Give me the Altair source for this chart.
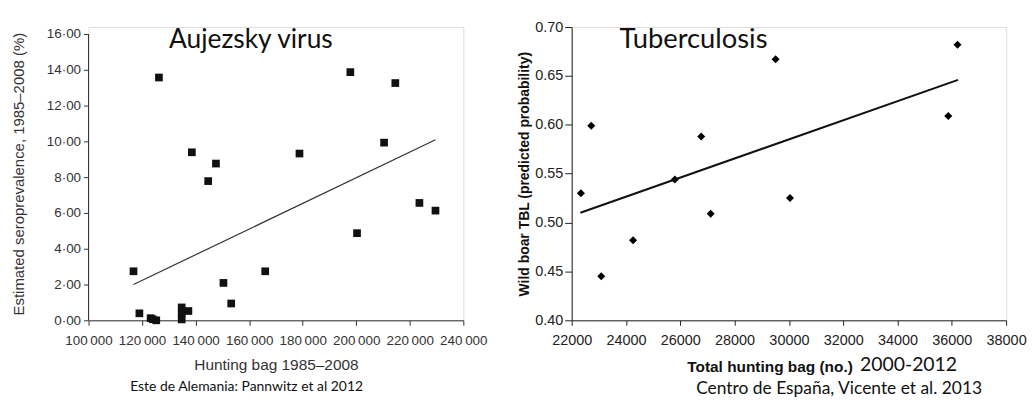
import altair as alt
import pandas as pd

# ---- Left panel: Aujeszky virus (Pannwitz et al 2012)
aujx = [116800, 119000, 123200, 124000, 125300, 134800, 134800, 134800, 137300,
        150400, 153300, 166000, 200300, 223600, 229600, 126300, 138600, 147600,
        144700, 178800, 197800, 210400, 214600]
aujy = [2.74, 0.39, 0.12, 0.06, 0.00, 0.72, 0.38, 0.05, 0.52,
        2.09, 0.94, 2.74, 4.87, 6.56, 6.13, 13.57, 9.39, 8.76,
        7.78, 9.32, 13.87, 9.93, 13.26]
auj_fit_x = [116800, 229600]
auj_fit_y = [2.0, 10.09]
auj_axis_x = [100000, 100000]
auj_axis_y = [0, 16]
auj_xticks = [100000, 120000, 140000, 160000, 180000, 200000, 220000, 240000]
auj_yticks = [0, 2, 4, 6, 8, 10, 12, 14, 16]

# ---- Right panel: Tuberculosis (Vicente et al. 2013)
tbx = [22340, 22720, 23090, 24260, 25800, 26770, 27120, 29510, 30040, 35870, 36210]
tby = [0.530, 0.599, 0.445, 0.482, 0.544, 0.588, 0.509, 0.667, 0.525, 0.609, 0.682]
tb_fit_x = [22320, 36230]
tb_fit_y = [0.510, 0.646]
tb_xticks = [22000, 24000, 26000, 28000, 30000, 32000, 34000, 36000, 38000]
tb_yticks = [0.40, 0.45, 0.50, 0.55, 0.60, 0.65, 0.70]

LW, LH = 377, 295
RW, RH = 437, 295
CAL = "Lato"
ARIAL = "Liberation Sans"

# ---------- Left ----------
ldf = pd.DataFrame({"x": aujx, "y": aujy})
lfit = pd.DataFrame({"x": auj_fit_x, "y": auj_fit_y})
laxis = pd.DataFrame({"x": auj_axis_x, "y": auj_axis_y})

lx = alt.X("x:Q", scale=alt.Scale(domain=[100000, 240000], nice=False, zero=False),
           axis=alt.Axis(values=auj_xticks, title="Hunting bag 1985–2008",
                         labelExpr="replace(format(datum.value, ','), ',', '\u2009')",
                         grid=False, tickSize=5, labelPadding=8, domainColor="#333",
                         tickColor="#333", labelColor="#333", titleColor="#333",
                         labelFont=ARIAL, titleFont=ARIAL, labelFontSize=13.5,
                         labelOverlap=False, labelFlush=False,
                         titleFontSize=15.5, titleFontWeight="normal", titlePadding=11))
ly = alt.Y("y:Q", scale=alt.Scale(domain=[0, 16.39], nice=False),
           axis=alt.Axis(values=auj_yticks, title="Estimated seroprevalence, 1985–2008 (%)",
                         labelExpr="replace(format(datum.value, '.2f'), '.', '·')",
                         grid=False, domain=False, tickSize=5, labelPadding=3,
                         tickColor="#333", labelColor="#333", titleColor="#333",
                         labelFont=ARIAL, titleFont=ARIAL, labelFontSize=13.5,
                         labelOverlap=False, labelFlush=False,
                         titleFontSize=15, titleFontWeight="normal", titlePadding=20))

lpts = alt.Chart(ldf).mark_point(shape="square", filled=True, size=60, color="#111",
                                 opacity=1).encode(x=lx, y=ly)
lline = alt.Chart(lfit).mark_line(color="#333", strokeWidth=1.2).encode(x=lx, y=ly)
lax = alt.Chart(laxis).mark_line(color="#333", strokeWidth=1).encode(x=lx, y=ly)
ltitle = alt.Chart(pd.DataFrame({"t": ["Aujezsky virus"]})).mark_text(
    font=CAL, fontSize=26.5, align="left", baseline="alphabetic", color="#111"
).encode(text="t:N", x=alt.value(81), y=alt.value(21))
lcap = alt.Chart(pd.DataFrame({"t": ["Este de Alemania: Pannwitz et al 2012"]})).mark_text(
    font=CAL, fontSize=14, align="center", baseline="alphabetic", color="#111"
).encode(text="t:N", x=alt.value(159), y=alt.value(366))

left = alt.layer(lpts, lline, lax, ltitle, lcap).properties(width=LW, height=LH)

# ---------- Right ----------
rdf = pd.DataFrame({"x": tbx, "y": tby})
rfit = pd.DataFrame({"x": tb_fit_x, "y": tb_fit_y})

rx = alt.X("x:Q", scale=alt.Scale(domain=[22000, 38000], nice=False, zero=False),
           axis=alt.Axis(values=tb_xticks, title="Total hunting bag (no.)", format="d",
                         grid=False, tickSize=5, labelPadding=8, domainColor="#222",
                         tickColor="#222", labelColor="#222", titleColor="#111",
                         labelFont=ARIAL, titleFont=ARIAL, labelFontSize=14.5,
                         labelOverlap=False, labelFlush=False,
                         titleFontSize=15.5, titleFontWeight="bold", titlePadding=13,
                         titleX=199, titleAlign="center"))
ry = alt.Y("y:Q", scale=alt.Scale(domain=[0.40, 0.70], nice=False, zero=False),
           axis=alt.Axis(values=tb_yticks, title="Wild boar TBL (predicted probability)",
                         format=".2f", grid=False, tickSize=7, labelPadding=2,
                         domainColor="#222", tickColor="#222", labelColor="#222",
                         titleColor="#111", labelFont=ARIAL, titleFont=ARIAL,
                         labelOverlap=False, labelFlush=False,
                         labelFontSize=14.5, titleFontSize=14, titleFontWeight="bold",
                         titlePadding=3))

rpts = alt.Chart(rdf).mark_point(shape="diamond", filled=True, size=65, color="#000",
                                 opacity=1).encode(x=rx, y=ry)
rline = alt.Chart(rfit).mark_line(color="#111", strokeWidth=2).encode(x=rx, y=ry)
rtitle = alt.Chart(pd.DataFrame({"t": ["Tuberculosis"]})).mark_text(
    font=CAL, fontSize=27.5, align="left", baseline="alphabetic", color="#111"
).encode(text="t:N", x=alt.value(48), y=alt.value(21))
rsub = alt.Chart(pd.DataFrame({"t": ["2000-2012"]})).mark_text(
    font=CAL, fontSize=19.5, align="left", baseline="alphabetic", color="#111"
).encode(text="t:N", x=alt.value(290), y=alt.value(346))
rcap = alt.Chart(pd.DataFrame({"t": ["Centro de España, Vicente et al. 2013"]})).mark_text(
    font=CAL, fontSize=17.5, align="center", baseline="alphabetic", color="#111"
).encode(text="t:N", x=alt.value(269), y=alt.value(369))

right = alt.layer(rpts, rline, rtitle, rsub, rcap).properties(width=RW, height=RH)

chart = alt.hconcat(left, right, spacing=29).properties(
    padding={"left": 2, "top": 9, "right": 0, "bottom": 0}
).configure_view(stroke=None).configure(background="white")

chart.save("out.html", embed_options={"renderer": "svg", "actions": False})
